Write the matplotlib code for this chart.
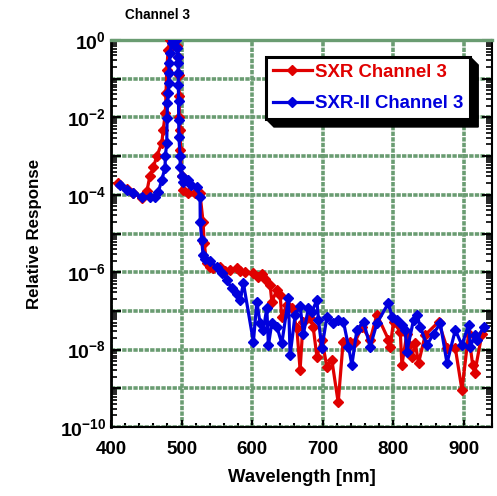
import matplotlib
matplotlib.use('Agg')
import numpy as np
from matplotlib import pyplot as plt
from matplotlib import ticker
from matplotlib.patches import Polygon
from matplotlib.transforms import IdentityTransform

plt.rcParams['font.family'] = ['Liberation Sans', 'DejaVu Sans']
plt.rcParams['font.weight'] = 'bold'
plt.rcParams['mathtext.fontset'] = 'custom'
plt.rcParams['mathtext.bf'] = 'Liberation Sans:bold'
plt.rcParams['mathtext.rm'] = 'Liberation Sans:bold'
plt.rcParams['mathtext.default'] = 'bf'

# SXR Channel 3 (red)
sxr_wl = [410, 423, 431, 444, 451, 455, 460, 465, 472, 474, 477, 478, 479, 481, 484,
          486.5, 491, 493, 495.5, 496, 496.5, 497, 498, 498.5, 500, 502, 509, 519, 526,
          530.5, 532, 535.7, 540.4, 544.7, 554.6, 561.7, 568.8, 578.3, 583, 590, 601.4,
          608.5, 614, 618.4, 625.5, 628, 635, 639.7, 642, 649, 656, 663.4, 668, 672.3,
          682.3, 686.5, 691.8, 698.9, 706, 713, 722, 729, 739, 746, 755.6, 767.4, 776.9,
          793.3, 795.7, 800.4, 810, 812.3, 819.4, 821.7, 826.5, 831.2, 835.9, 845.4,
          864.2, 876.2, 888, 897.4, 906.8, 912.6, 915.5, 925.8]
sxr_resp = [2.0e-4, 1.4e-4, 1.1e-4, 8.3e-5, 1.26e-4, 3.0e-4, 5.2e-4, 1.0e-3, 2.2e-3,
            4.7e-3, 1.3e-2, 4.3e-2, 0.17, 0.55, 1.0, 0.9, 1.0, 0.7, 0.37, 0.126, 0.035,
            0.0105, 4.7e-3, 1.45e-3, 3.0e-4, 1.3e-4, 1.1e-4, 1.1e-4, 1.1e-4, 2e-5, 5.6e-6,
            1.7e-6, 1.4e-6, 1.26e-6, 1.4e-6, 1.1e-6, 1.15e-6, 1.26e-6, 1.1e-6, 1.0e-6,
            9.3e-7, 7.6e-7, 9e-7, 6.6e-7, 4.7e-7, 1.7e-7, 3.5e-7, 2.6e-7, 7e-8, 1.4e-7,
            1.2e-7, 3.6e-8, 3.0e-9, 5.2e-8, 6.6e-8, 3.9e-8, 6.6e-9, 1.8e-8, 3.6e-9, 5.4e-9,
            4.3e-10, 1.6e-8, 1.6e-8, 1.6e-8, 3.9e-8, 1.8e-8, 8e-8, 1.8e-8, 1.2e-8, 5.2e-8,
            2.9e-8, 4e-9, 2.6e-8, 1.3e-8, 6.6e-9, 1.45e-8, 4.5e-9, 2.4e-8, 5.2e-8, 1.1e-8,
            1.1e-8, 9e-10, 2.6e-8, 4e-9, 2.5e-9, 2.6e-8]

# SXR-II Channel 3 (blue)
sxr2_wl = [412.8, 422.3, 431.2, 443.5, 455.3, 462.4, 467.1, 471.9, 476.6, 477, 479,
           479.5, 480, 481, 481.5, 482, 482.5, 483.7, 486, 488, 492, 493.2, 494.5, 495,
           495.3, 495.5, 495.7, 496, 496.3, 497.9, 498.2, 500.3, 502.6, 505, 509.6, 513.5,
           521.6, 526.2, 526.5, 528.6, 530.5, 533.3, 540.4, 549.9, 557, 564.1, 571.2,
           578.3, 583, 587.7, 601.8, 606.7, 611.3, 616, 620.8, 623.1, 627.9, 635, 642.1,
           651.5, 653.9, 661, 668, 672.8, 679.9, 684.7, 691.8, 694, 698.9, 706, 715.3,
           722.4, 729.5, 736.6, 741.4, 748.5, 757.9, 767.4, 776.9, 793.3, 798.1, 805.2,
           812.3, 817, 819.4, 828.8, 833.6, 838.3, 847.8, 857.2, 866.7, 876.2, 888,
           897.4, 906.8, 909.2, 916.3, 918.7, 928.1]
sxr2_resp = [1.8e-4, 1.3e-4, 1.1e-4, 8.9e-5, 8.9e-5, 8.9e-5, 1.2e-4, 2.4e-4, 5e-4,
             9.8e-4, 2.2e-3, 9.5e-3, 2.3e-2, 4.3e-2, 7.6e-2, 0.14, 0.25, 0.46, 0.83, 1.0,
             1.0, 0.62, 0.37, 0.25, 0.14, 0.069, 0.026, 8.5e-3, 3.2e-3, 9.8e-4, 5.2e-4,
             3.0e-4, 2.2e-4, 2.4e-4, 2.4e-4, 1.8e-4, 1.6e-4, 8.9e-5, 2.0e-5, 6.8e-6,
             2.8e-6, 2.2e-6, 1.9e-6, 1.4e-6, 9.3e-7, 6.3e-7, 3.8e-7, 2.8e-7, 1.9e-7,
             5.2e-7, 1.6e-8, 1.7e-7, 4.8e-8, 3.2e-8, 1.2e-7, 1.3e-8, 4.8e-8, 3.9e-8,
             1.45e-8, 2.1e-7, 7.2e-9, 8e-8, 1.3e-7, 2.6e-8, 1.2e-7, 9.5e-8, 1.9e-7, 5.9e-8,
             1.1e-8, 7e-8, 4.8e-8, 5.9e-8, 5.2e-8, 1.2e-8, 4e-9, 3.2e-8, 5.2e-8, 1.2e-8,
             4.8e-8, 1.6e-7, 7e-8, 5.9e-8, 4.4e-8, 3.2e-8, 8.9e-9, 5.9e-8, 8e-8, 3.9e-8,
             1.3e-8, 2.6e-8, 4.8e-8, 4.5e-9, 3.2e-8, 1.3e-8, 4.4e-8, 1.2e-8, 2.4e-8,
             1.8e-8, 3.9e-8]

RED = '#e00000'
BLUE = '#0000dd'
GRID = '#6a9c72'

W, H = 497, 496
fig = plt.figure(figsize=(W / 100, H / 100), dpi=100)
ax = fig.add_axes([111 / W, 1 - 427 / H, 381 / W, 387 / H])

ax.plot(sxr_wl, sxr_resp, color=RED, lw=2.3, marker='D', ms=5.5,
        label='SXR Channel 3', zorder=3)
ax.plot(sxr2_wl, sxr2_resp, color=BLUE, lw=2.3, marker='D', ms=5.5,
        label='SXR-II Channel 3', zorder=4)

ax.set_yscale('log')
ax.set_xlim(400, 940)
ax.set_ylim(1e-10, 1)

ax.xaxis.set_major_locator(ticker.MultipleLocator(100))
ax.xaxis.set_minor_locator(ticker.MultipleLocator(20))
ax.yaxis.set_major_locator(ticker.FixedLocator([10.0 ** e for e in range(-10, 1)]))
ax.yaxis.set_minor_locator(ticker.LogLocator(base=10, subs=np.arange(2, 10), numticks=20))
ax.yaxis.set_minor_formatter(ticker.NullFormatter())


def ylab(v, pos):
    e = int(round(np.log10(v)))
    return r'$10^{%d}$' % e if e % 2 == 0 else ''


ax.yaxis.set_major_formatter(ticker.FuncFormatter(ylab))
ax.tick_params(axis='both', which='both', direction='in', colors='black')
ax.tick_params(axis='x', labelsize=13.5)
ax.tick_params(axis='y', labelsize=14)
ax.tick_params(axis='y', which='both', left=True, right=True)
ax.tick_params(axis='y', which='major', length=7, width=1.5)
ax.tick_params(axis='y', which='minor', length=4, width=1.2)
ax.tick_params(axis='x', which='major', length=5, width=1.5, pad=10)
ax.tick_params(axis='x', which='minor', length=3, width=1.5)
for lab in ax.get_xticklabels() + ax.get_yticklabels():
    lab.set_fontweight('bold')

ax.grid(True, which='major', color=GRID, lw=2.6, ls=(0, (1.2, 0.35)), zorder=1)
ax.set_axisbelow(True)

ax.spines['left'].set_linewidth(2)
ax.spines['right'].set_linewidth(1.5)
ax.spines['bottom'].set_linewidth(1.5)
ax.spines['top'].set_color(GRID)
ax.spines['top'].set_linewidth(2.4)

ax.set_xlabel('Wavelength [nm]', fontsize=13.3, fontweight='bold', labelpad=8)
ax.set_ylabel('Relative Response', fontsize=12.2, fontweight='bold', labelpad=13)
fig.text(125 / W, 1 - 15 / H, 'Channel 3', fontsize=9.8, fontweight='bold',
         ha='left', va='center')

leg = fig.legend(loc='upper left', bbox_to_anchor=(266 / W, 1 - 57 / H),
                 borderaxespad=0, numpoints=1, handlelength=2.1, fontsize=13.4,
                 frameon=True, fancybox=False, edgecolor='black', framealpha=1,
                 labelspacing=0.8, borderpad=0.35, handletextpad=0.2)
leg.get_frame().set_linewidth(2.2)
for txt, col in zip(leg.get_texts(), [RED, BLUE]):
    txt.set_color(col)
    txt.set_fontweight('bold')
leg.set_zorder(10)

# black extruded shadow behind the legend box
fig.canvas.draw()
bb = leg.get_window_extent()
d = 8
shadow = Polygon([(bb.x1, bb.y1), (bb.x1 + d, bb.y1 - d), (bb.x1 + d, bb.y0 - d),
                  (bb.x0 + d, bb.y0 - d), (bb.x0, bb.y0), (bb.x1, bb.y0)],
                 closed=True, transform=IdentityTransform(),
                 facecolor='black', edgecolor='black', zorder=9)
fig.patches.append(shadow)
shadow.set_figure(fig)

fig.savefig('out.png', dpi=100)
